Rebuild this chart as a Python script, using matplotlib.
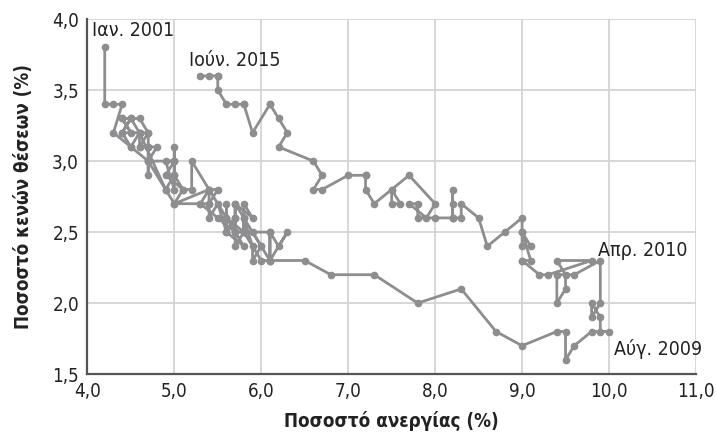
import numpy as np
import matplotlib
matplotlib.use('Agg')
import matplotlib.pyplot as plt
from matplotlib.ticker import FuncFormatter, MultipleLocator

plt.rcParams['font.family'] = ['DejaVu Sans']
plt.rcParams['font.stretch'] = 'condensed'

# unemployment rate (%) and job openings rate (%), monthly Jan 2001 - Jun 2015
unemp = [
    4.2, 4.2, 4.3, 4.4, 4.3, 4.5, 4.6, 4.9, 5.0, 5.3, 5.5, 5.7,   # 2001
    5.7, 5.7, 5.7, 5.9, 5.8, 5.8, 5.8, 5.7, 5.7, 5.7, 5.9, 6.0,   # 2002
    5.8, 5.9, 5.9, 6.0, 6.1, 6.3, 6.2, 6.1, 6.1, 6.0, 5.8, 5.7,   # 2003
    5.7, 5.6, 5.8, 5.6, 5.6, 5.6, 5.5, 5.4, 5.4, 5.5, 5.4, 5.4,   # 2004
    5.3, 5.4, 5.2, 5.2, 5.1, 5.0, 5.0, 4.9, 5.0, 5.0, 5.0, 4.9,   # 2005
    4.7, 4.8, 4.7, 4.7, 4.6, 4.6, 4.7, 4.7, 4.5, 4.4, 4.5, 4.4,   # 2006
    4.6, 4.5, 4.4, 4.5, 4.4, 4.6, 4.7, 4.6, 4.7, 4.7, 4.7, 5.0,   # 2007
    5.0, 4.9, 5.1, 5.0, 5.4, 5.6, 5.8, 6.1, 6.1, 6.5, 6.8, 7.3,   # 2008
    7.8, 8.3, 8.7, 9.0, 9.4, 9.5, 9.5, 9.6, 9.8, 10.0, 9.9, 9.9,  # 2009
    9.8, 9.8, 9.9, 9.9, 9.6, 9.4, 9.4, 9.5, 9.5, 9.4, 9.8, 9.3,   # 2010
    9.2, 9.0, 9.0, 9.1, 9.0, 9.1, 9.0, 9.0, 9.0, 8.8, 8.6, 8.5,   # 2011
    8.3, 8.3, 8.2, 8.2, 8.2, 8.2, 8.2, 8.0, 7.8, 7.8, 7.7, 7.9,   # 2012
    8.0, 7.7, 7.5, 7.6, 7.5, 7.5, 7.3, 7.2, 7.2, 7.2, 7.0, 6.7,   # 2013
    6.6, 6.7, 6.6, 6.2, 6.3, 6.2, 6.1, 6.1, 5.9, 5.8, 5.8, 5.7,   # 2014
    5.6, 5.5, 5.5, 5.4, 5.5, 5.3,                                 # 2015
]
openings = [
    3.8, 3.4, 3.4, 3.4, 3.2, 3.1, 3.2, 2.8, 2.7, 2.7, 2.6, 2.5,
    2.6, 2.5, 2.7, 2.6, 2.7, 2.5, 2.6, 2.7, 2.6, 2.5, 2.5, 2.4,
    2.6, 2.4, 2.3, 2.4, 2.3, 2.5, 2.4, 2.5, 2.3, 2.3, 2.5, 2.4,
    2.6, 2.5, 2.4, 2.6, 2.7, 2.5, 2.7, 2.6, 2.7, 2.8, 2.8, 2.7,
    2.7, 2.8, 3.0, 2.8, 2.8, 2.9, 3.0, 3.0, 2.8, 3.1, 2.9, 2.8,
    3.0, 3.1, 3.1, 3.2, 3.2, 3.1, 3.1, 3.0, 3.1, 3.2, 3.3, 3.2,
    3.2, 3.3, 3.3, 3.2, 3.3, 3.3, 3.2, 3.1, 3.1, 2.9, 3.0, 3.0,
    3.0, 2.9, 2.8, 2.7, 2.8, 2.6, 2.5, 2.5, 2.3, 2.3, 2.2, 2.2,
    2.0, 2.1, 1.8, 1.7, 1.8, 1.8, 1.6, 1.7, 1.8, 1.8, 1.8, 1.9,
    2.0, 1.9, 2.0, 2.3, 2.2, 2.2, 2.0, 2.1, 2.2, 2.3, 2.3, 2.2,
    2.2, 2.3, 2.3, 2.3, 2.5, 2.4, 2.4, 2.5, 2.6, 2.5, 2.4, 2.6,
    2.7, 2.6, 2.6, 2.8, 2.7, 2.6, 2.6, 2.6, 2.6, 2.7, 2.7, 2.6,
    2.7, 2.9, 2.8, 2.7, 2.7, 2.8, 2.7, 2.8, 2.9, 2.9, 2.9, 2.8,
    2.8, 2.9, 3.0, 3.1, 3.2, 3.3, 3.4, 3.4, 3.2, 3.4, 3.4, 3.4,
    3.4, 3.5, 3.6, 3.6, 3.6, 3.6,
]

notes = ['Ιαν. 2001', 'Ιούν. 2015', 'Απρ. 2010', 'Αύγ. 2009']
note_xy = [(4.05, 3.92), (5.17, 3.71), (9.87, 2.37), (10.06, 1.68)]

grey = '#8e8e90'

fig = plt.figure(figsize=(7.16, 4.34), dpi=100)
ax = fig.add_axes([0.122, 0.138, 0.85, 0.818])
ax.plot(unemp, openings, color=grey, lw=2, marker='o', ms=4.5, zorder=3)

for t, (x, y) in zip(notes, note_xy):
    ax.text(x, y, t, fontsize=14, color='#222222', va='center', ha='left')

ax.set_xlim(4, 11)
ax.set_ylim(1.5, 4)
ax.xaxis.set_major_locator(MultipleLocator(1))
ax.yaxis.set_major_locator(MultipleLocator(0.5))
comma = FuncFormatter(lambda v, p: ('%.1f' % v).replace('.', ','))
ax.xaxis.set_major_formatter(comma)
ax.yaxis.set_major_formatter(comma)
ax.tick_params(length=0, labelsize=13.5, labelcolor='#222222')
ax.tick_params(axis='x', pad=6)
ax.tick_params(axis='y', pad=6)
ax.grid(True, color='#d4d4d4', lw=1.3)
ax.set_axisbelow(True)
for s in ['top', 'right']:
    ax.spines[s].set_visible(False)
for s in ['left', 'bottom']:
    ax.spines[s].set_color('#555555')
    ax.spines[s].set_linewidth(1.6)

ax.set_xlabel('Ποσοστό ανεργίας (%)', fontsize=13.5, fontweight='bold', color='#222222', labelpad=7)
ax.set_ylabel('Ποσοστό κενών θέσεων (%)', fontsize=13.5, fontweight='bold', color='#222222', labelpad=14)

fig.savefig('out.png', dpi=100)
